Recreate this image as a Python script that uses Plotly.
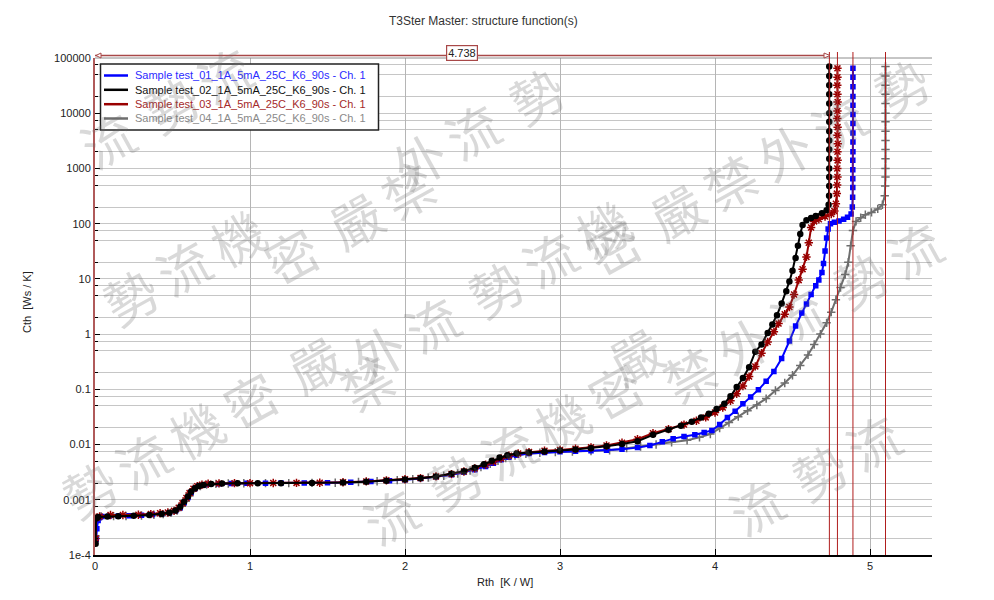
import plotly.graph_objects as go

# ---------------- data ----------------
series_names = [
    "Sample test_01_1A_5mA_25C_K6_90s - Ch. 1",
    "Sample test_02_1A_5mA_25C_K6_90s - Ch. 1",
    "Sample test_03_1A_5mA_25C_K6_90s - Ch. 1",
    "Sample test_04_1A_5mA_25C_K6_90s - Ch. 1",
]

blue_rth = [0.008, 0.012, 0.02, 0.03, 0.045, 0.09, 0.15, 0.22, 0.3, 0.37, 0.43, 0.48, 0.52, 0.55, 0.575,
            0.6, 0.62, 0.645, 0.67, 0.7, 0.74, 0.8, 0.88, 0.98, 1.1, 1.2, 1.35, 1.5, 1.65, 1.78, 1.9,
            2.0, 2.1, 2.2, 2.3, 2.38, 2.45, 2.52, 2.57, 2.62, 2.67, 2.72, 2.8, 2.9, 3.0, 3.1, 3.2, 3.3,
            3.4, 3.5, 3.58, 3.66, 3.73, 3.8, 3.87, 3.93, 3.98, 4.03, 4.08, 4.13, 4.18, 4.23, 4.28, 4.33,
            4.38, 4.43, 4.48, 4.52, 4.56, 4.59, 4.62, 4.65, 4.67, 4.69, 4.70, 4.71, 4.72, 4.73, 4.745,
            4.77, 4.80, 4.83, 4.855, 4.878, 4.886, 4.888, 4.889, 4.889, 4.889, 4.889, 4.89, 4.89,
            4.89, 4.89, 4.89, 4.89, 4.89, 4.89, 4.89, 4.89]
blue_cth = [1.9e-4, 3.0e-4, 4.2e-4, 4.8e-4, 5.0e-4, 5.05e-4, 5.1e-4, 5.15e-4, 5.25e-4, 5.4e-4, 5.5e-4,
            5.8e-4, 6.3e-4, 7.2e-4, 8.8e-4, 1.1e-3, 1.35e-3, 1.6e-3, 1.75e-3, 1.85e-3, 1.92e-3, 1.96e-3,
            1.98e-3, 2.0e-3, 2.0e-3, 2.01e-3, 2.02e-3, 2.04e-3, 2.08e-3, 2.15e-3, 2.22e-3, 2.3e-3,
            2.42e-3, 2.6e-3, 2.85e-3, 3.15e-3, 3.5e-3, 4.0e-3, 4.6e-3, 5.3e-3, 5.9e-3, 6.4e-3, 6.9e-3,
            7.2e-3, 7.4e-3, 7.6e-3, 7.7e-3, 7.9e-3, 8.2e-3, 8.8e-3, 9.6e-3, 1.12e-2, 1.28e-2, 1.4e-2,
            1.5e-2, 1.65e-2, 1.8e-2, 2.3e-2, 3.1e-2, 4.0e-2, 5.5e-2, 7.3e-2, 9.8e-2, 0.14, 0.21, 0.36,
            0.75, 1.4, 2.4, 3.5, 5.2, 7.5, 9.5, 13, 19, 32, 55, 80, 100, 106, 112, 120, 130, 150, 200,
            300, 450, 650, 950, 1400, 2000, 3000, 4400, 6500, 9500, 14000, 20000, 30000, 45000, 65000]

black_rth = [0.004, 0.006, 0.02, 0.08, 0.15, 0.25, 0.35, 0.43, 0.48, 0.52, 0.55, 0.575, 0.6, 0.62, 0.645,
             0.67, 0.7, 0.75, 0.82, 0.92, 1.05, 1.2, 1.4, 1.6, 1.75, 1.88, 2.0, 2.1, 2.2, 2.3, 2.38, 2.45,
             2.51, 2.56, 2.61, 2.66, 2.72, 2.8, 2.9, 3.0, 3.1, 3.2, 3.3, 3.4, 3.5, 3.6, 3.7, 3.78, 3.85,
             3.91, 3.96, 4.01, 4.06, 4.1, 4.14, 4.18, 4.22, 4.26, 4.3, 4.34, 4.37, 4.4, 4.43, 4.46, 4.48,
             4.5, 4.52, 4.535, 4.55, 4.565, 4.59, 4.62, 4.65, 4.69, 4.72, 4.733, 4.736, 4.737, 4.737,
             4.737, 4.737, 4.737, 4.737, 4.737, 4.737, 4.737, 4.737, 4.737, 4.737, 4.737, 4.737]
black_cth = [1.6e-4, 4.6e-4, 4.9e-4, 5.0e-4, 5.05e-4, 5.15e-4, 5.3e-4, 5.5e-4, 5.8e-4, 6.4e-4, 7.5e-4,
             9.2e-4, 1.15e-3, 1.4e-3, 1.62e-3, 1.77e-3, 1.86e-3, 1.93e-3, 1.97e-3, 1.99e-3, 2.0e-3,
             2.0e-3, 2.02e-3, 2.06e-3, 2.13e-3, 2.22e-3, 2.32e-3, 2.45e-3, 2.65e-3, 2.95e-3, 3.3e-3,
             3.8e-3, 4.4e-3, 5.1e-3, 5.8e-3, 6.4e-3, 6.9e-3, 7.2e-3, 7.5e-3, 7.8e-3, 8.1e-3, 8.6e-3,
             9.3e-3, 1.02e-2, 1.15e-2, 1.5e-2, 1.85e-2, 2.2e-2, 2.6e-2, 3.1e-2, 3.6e-2, 4.4e-2, 5.5e-2,
             7.5e-2, 0.11, 0.16, 0.25, 0.48, 0.65, 1.05, 1.5, 2.2, 3.6, 6.0, 9.0, 14, 24, 40, 65, 95,
             115, 126, 138, 155, 175, 220, 320, 480, 700, 1000, 1500, 2200, 3200, 4700, 7000, 10000,
             15000, 22000, 32000, 47000, 70000]

red_rth = [0.004, 0.008, 0.03, 0.1, 0.18, 0.28, 0.36, 0.42, 0.47, 0.51, 0.54, 0.565, 0.59, 0.61, 0.635,
           0.66, 0.69, 0.73, 0.8, 0.9, 1.0, 1.15, 1.3, 1.45, 1.6, 1.75, 1.88, 2.0, 2.1, 2.2, 2.3, 2.38,
           2.45, 2.52, 2.57, 2.62, 2.67, 2.73, 2.8, 2.9, 3.0, 3.1, 3.2, 3.3, 3.4, 3.5, 3.6, 3.7, 3.8,
           3.88, 3.94, 4.0, 4.05, 4.1, 4.14, 4.18, 4.22, 4.26, 4.3, 4.34, 4.38, 4.41, 4.45, 4.48, 4.51,
           4.54, 4.565, 4.59, 4.605, 4.62, 4.64, 4.67, 4.71, 4.75, 4.77, 4.78, 4.786, 4.788, 4.79,
           4.789, 4.791, 4.79, 4.792, 4.79, 4.791, 4.789, 4.79, 4.791, 4.79, 4.789, 4.79, 4.79]
red_cth = [2.0e-4, 4.7e-4, 5.0e-4, 5.3e-4, 5.3e-4, 5.35e-4, 5.5e-4, 5.7e-4, 5.9e-4, 6.3e-4, 7.2e-4,
           8.7e-4, 1.08e-3, 1.32e-3, 1.58e-3, 1.76e-3, 1.87e-3, 1.95e-3, 1.98e-3, 2.0e-3, 2.0e-3,
           2.01e-3, 2.02e-3, 2.04e-3, 2.08e-3, 2.15e-3, 2.25e-3, 2.35e-3, 2.47e-3, 2.65e-3, 2.92e-3,
           3.25e-3, 3.7e-3, 4.3e-3, 4.9e-3, 5.6e-3, 6.3e-3, 6.9e-3, 7.3e-3, 7.7e-3, 8.0e-3, 8.4e-3,
           8.9e-3, 9.6e-3, 1.08e-2, 1.25e-2, 1.6e-2, 1.9e-2, 2.3e-2, 2.7e-2, 3.1e-2, 3.8e-2, 4.7e-2,
           6.2e-2, 8.3e-2, 0.115, 0.17, 0.26, 0.45, 0.72, 1.1, 1.55, 2.3, 3.1, 5.2, 9.5, 15, 25, 45,
           85, 110, 120, 135, 150, 170, 230, 350, 500, 700, 1000, 1400, 2000, 2800, 4000, 5600, 8000,
           11000, 16000, 22000, 32000, 45000, 65000, 95000]

gray_rth = [0.004, 0.01, 0.04, 0.12, 0.2, 0.3, 0.38, 0.44, 0.49, 0.53, 0.56, 0.585, 0.61, 0.63, 0.655,
            0.68, 0.72, 0.78, 0.86, 0.96, 1.1, 1.25, 1.4, 1.55, 1.7, 1.82, 1.95, 2.05, 2.15, 2.25, 2.34,
            2.42, 2.49, 2.55, 2.6, 2.65, 2.71, 2.78, 2.87, 2.97, 3.08, 3.2, 3.32, 3.43, 3.52, 3.62, 3.72,
            3.82, 3.9, 3.97, 4.03, 4.09, 4.15, 4.21, 4.27, 4.33, 4.39, 4.45, 4.5, 4.55, 4.6, 4.64, 4.68,
            4.72, 4.75, 4.78, 4.81, 4.84, 4.86, 4.875, 4.89, 4.91, 4.94, 4.97, 5.01, 5.05, 5.08, 5.095,
            5.098, 5.1, 5.1, 5.1, 5.1, 5.1, 5.1, 5.1, 5.1, 5.1, 5.1, 5.1, 5.1, 5.1, 5.1]
gray_cth = [2.2e-4, 4.7e-4, 5.0e-4, 5.05e-4, 5.1e-4, 5.2e-4, 5.35e-4, 5.5e-4, 5.8e-4, 6.4e-4, 7.6e-4,
            9.4e-4, 1.18e-3, 1.42e-3, 1.64e-3, 1.78e-3, 1.88e-3, 1.94e-3, 1.97e-3, 1.99e-3, 2.0e-3,
            2.0e-3, 2.02e-3, 2.04e-3, 2.1e-3, 2.17e-3, 2.27e-3, 2.37e-3, 2.52e-3, 2.72e-3, 3.0e-3,
            3.4e-3, 3.9e-3, 4.5e-3, 5.1e-3, 5.7e-3, 6.3e-3, 6.8e-3, 7.1e-3, 7.3e-3, 7.5e-3, 7.6e-3,
            7.9e-3, 8.6e-3, 9.2e-3, 1.0e-2, 1.1e-2, 1.2e-2, 1.35e-2, 1.55e-2, 2.0e-2, 2.5e-2, 3.2e-2,
            4.1e-2, 5.2e-2, 6.8e-2, 9.5e-2, 0.13, 0.18, 0.27, 0.42, 0.65, 1.0, 1.6, 2.5, 4.2, 7.0, 12,
            20, 40, 75, 110, 128, 145, 160, 185, 220, 320, 480, 700, 1000, 1500, 2200, 3200, 4700,
            7000, 10000, 15000, 22000, 32000, 47000, 70000]

cursor_rth = [4.738, 4.79, 4.89, 5.1]
cursor_label = "4.738"

y_tick_vals = [1e-4, 1e-3, 1e-2, 1e-1, 1, 10, 100, 1000, 10000, 100000]
y_tick_text = ["1e-4", "0.001", "0.01", "0.1", "1", "10", "100", "1000", "10000", "100000"]
x_tick_vals = [0, 1, 2, 3, 4, 5]

watermark_groups = ["勢流機密", "嚴禁外流"]

# ---------------- styling ----------------
W, H = 994, 600
L, R, T, B = 95, 62, 58, 45
PW, PH = W - L - R, H - T - B
FONT = "Arial, Liberation Sans, sans-serif"

def px(xp):
    return (xp - L) / PW

def py(yp):
    return 1 - (yp - T) / PH

line_colors = ["#0000ff", "#000000", "#990000", "#6e6e6e"]
text_colors = ["#2b2bff", "#111111", "#a52a2a", "#8a8a8a"]
symbols = ["square", "circle", "asterisk-open", "cross-thin-open"]
msizes = [4, 5, 7, 6]

fig = go.Figure()
xs = [blue_rth, black_rth, red_rth, gray_rth]
ys = [blue_cth, black_cth, red_cth, gray_cth]
order = [3, 0, 2, 1]
for i in order:
    fig.add_trace(go.Scatter(
        x=xs[i], y=ys[i], mode="lines+markers", name=series_names[i],
        line=dict(color=line_colors[i], width=2),
        marker=dict(symbol=symbols[i], size=msizes[i], color=line_colors[i],
                    line=dict(color=line_colors[i], width=1.5)),
        showlegend=False, xaxis="x", yaxis="y"))

minor_vals = []
for e in range(-4, 5):
    for m in (2, 5, 7.5):
        minor_vals.append(m * 10 ** e)

grid_c = "#c6c6c6"
fig.update_layout(
    width=W, height=H, margin=dict(l=L, r=R, t=T, b=B),
    paper_bgcolor="white", plot_bgcolor="white",
    font=dict(family=FONT, size=11, color="#222"),
    showlegend=False,
    xaxis=dict(range=[0, PW / 155.0], tickvals=x_tick_vals, ticks="inside", ticklen=6,
               tickcolor="#000", showgrid=True, gridcolor="#b5b5b5", gridwidth=1,
               showline=True, linecolor="#000", linewidth=1.5, zeroline=False,
               tickfont=dict(size=11, color="#222")),
    yaxis=dict(type="log", range=[-4, 5], tickvals=y_tick_vals, ticktext=y_tick_text,
               ticks="inside", ticklen=5, tickcolor="#000", showgrid=True, gridcolor=grid_c,
               minor=dict(tickvals=minor_vals, ticks="inside", ticklen=3, tickcolor="#000",
                          showgrid=True, gridcolor=grid_c),
               showline=True, linecolor="#b05a5a", linewidth=2, zeroline=False,
               tickfont=dict(size=11, color="#222")),
    yaxis2=dict(type="log", range=[-4, 5], tickvals=y_tick_vals, ticktext=y_tick_text,
                overlaying="y", side="right", anchor="x", ticks="inside", ticklen=5,
                tickcolor="#000", showgrid=False,
                minor=dict(tickvals=minor_vals, ticks="inside", ticklen=3, tickcolor="#000"),
                showline=True, linecolor="#000", linewidth=1.5, zeroline=False,
                tickfont=dict(size=11, color="#222")),
)

shapes = []
annotations = []
# top frame
shapes.append(dict(type="line", xref="paper", yref="paper", x0=0, x1=1, y0=1, y1=1,
                   line=dict(color="#8c8c8c", width=1)))
# cursor lines
for cx in cursor_rth:
    shapes.append(dict(type="line", xref="x", yref="paper", x0=cx, x1=cx, y0=0, y1=py(52),
                       line=dict(color="#b01e1e", width=1)))
# dimension line with label
dim_y = py(55.5)
shapes.append(dict(type="line", xref="x", yref="paper", x0=0, x1=cursor_rth[0], y0=dim_y, y1=dim_y,
                   line=dict(color="#a84848", width=1.5)))
shapes.append(dict(type="path", xref="paper", yref="paper",
                   path=f"M {px(96)},{py(55.5)} L {px(101)},{py(53)} L {px(101)},{py(58)} Z",
                   line=dict(color="#a84848", width=1), fillcolor="white"))
shapes.append(dict(type="path", xref="paper", yref="paper",
                   path=f"M {px(830)},{py(55.5)} L {px(824)},{py(53)} L {px(824)},{py(58)} Z",
                   line=dict(color="#a84848", width=1), fillcolor="white"))
shapes.append(dict(type="line", xref="x", yref="paper", x0=cursor_rth[0] / 2, x1=cursor_rth[0] / 2,
                   y0=dim_y, y1=py(51), line=dict(color="#a84848", width=1)))
annotations.append(dict(xref="x", yref="paper", x=cursor_rth[0] / 2, y=py(44.5), text=cursor_label,
                        showarrow=False, font=dict(size=11, color="#222", family=FONT),
                        bordercolor="#a84848", borderwidth=1.2, borderpad=1, bgcolor="white"))

# manual legend
shapes.append(dict(type="rect", xref="paper", yref="paper", x0=px(100.5), x1=px(378.5),
                   y0=py(130), y1=py(64), line=dict(color="#222", width=1.5), fillcolor="white"))
rows = [75.5, 89.8, 104.2, 118.5]
for i in range(4):
    shapes.append(dict(type="line", xref="paper", yref="paper", x0=px(104), x1=px(128),
                       y0=py(rows[i]), y1=py(rows[i]), line=dict(color=line_colors[i], width=2.5)))
    annotations.append(dict(xref="paper", yref="paper", x=px(133), y=py(rows[i]), xanchor="left",
                            yanchor="middle", text=series_names[i], showarrow=False,
                            font=dict(size=11, color=text_colors[i], family=FONT)))

# titles
annotations.append(dict(xref="paper", yref="paper", x=px(483), y=py(12), text="T3Ster Master: structure function(s)",
                        showarrow=False, font=dict(size=12, color="#333", family=FONT)))
annotations.append(dict(xref="paper", yref="paper", x=px(505), y=py(590), text="Rth  [K / W]",
                        showarrow=False, font=dict(size=11, color="#222", family=FONT)))
annotations.append(dict(xref="paper", yref="paper", x=px(19), y=py(302), text="Cth  [Ws / K]",
                        textangle=-90, showarrow=False, font=dict(size=11, color="#222", family=FONT)))

# watermark (tiled, rotated)
ux, uy = 0.875, -0.485
step = 61.5
gvx, gvy = 225.0, -124.6
lvx, lvy = -41.0, 240.5
base_x, base_y = 495.0, 287.0   # a "勢" of one row
for n in range(-3, 4):
    for k in range(-6, 6):
        gx = base_x + n * lvx + k * gvx
        gy = base_y + n * lvy + k * gvy
        text = watermark_groups[k % 2]
        for j, ch in enumerate(text):
            cx_, cy_ = gx + j * step * ux, gy + j * step * uy
            if 24 < cx_ < W - 24 and 24 < cy_ < H - 24:
                annotations.append(dict(xref="paper", yref="paper", x=px(cx_), y=py(cy_), text=ch,
                                        showarrow=False, textangle=-29,
                                        font=dict(size=52, color="rgba(110,110,110,0.26)",
                                                  family="Noto Sans CJK TC")))

fig.update_layout(shapes=shapes, annotations=annotations)
fig.write_html("out.html", config={"displayModeBar": False},
               post_script="document.body.style.margin='0px';")
